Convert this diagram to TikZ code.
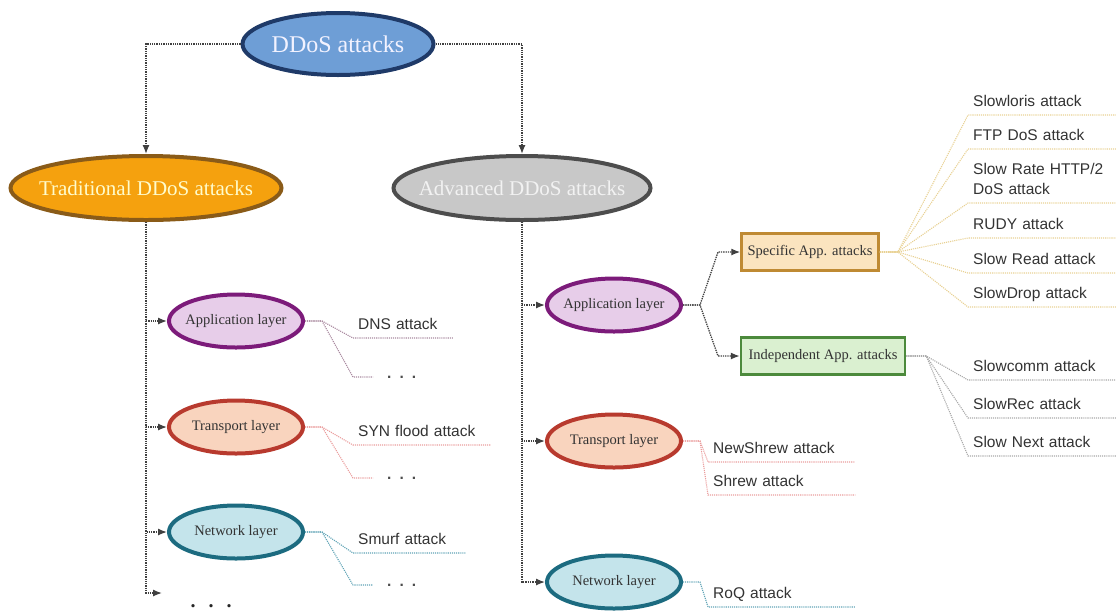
\documentclass[tikz,border=0pt]{standalone}
\usepackage{xcolor}
\usepackage{fontspec}
\usepackage{tikz}
\usetikzlibrary{shapes.geometric,arrows.meta}

\setmainfont{Liberation Serif}
\newfontfamily\leaffont{Liberation Sans}
\newcommand{\nowd}[1]{\makebox[0pt]{#1}}

\definecolor{rootfill}{HTML}{6E9ED6}
\definecolor{rootdraw}{HTML}{1F3A68}
\definecolor{tradfill}{HTML}{F5A10E}
\definecolor{traddraw}{HTML}{8A5B18}
\definecolor{advfill}{HTML}{C8C8C8}
\definecolor{advdraw}{HTML}{4D4D4D}
\definecolor{appfill}{HTML}{E7CDE9}
\definecolor{appdraw}{HTML}{7C1B7A}
\definecolor{trafill}{HTML}{F9D4BE}
\definecolor{tradraw}{HTML}{B83A2E}
\definecolor{netfill}{HTML}{C4E4EB}
\definecolor{netdraw}{HTML}{1C6B80}
\definecolor{specfill}{HTML}{FBE4BF}
\definecolor{specdraw}{HTML}{BF8A33}
\definecolor{indfill}{HTML}{DAF0D0}
\definecolor{inddraw}{HTML}{4C8A3C}
\definecolor{appline}{HTML}{A8889E}
\definecolor{traline}{HTML}{EA9C9C}
\definecolor{netline}{HTML}{5FA3B5}
\definecolor{specline}{HTML}{E8D193}
\definecolor{indline}{HTML}{A8A8A8}

\tikzset{
  trunk/.style={densely dotted, line width=1.3pt, black!75},
  tip/.style={-{Latex[length=9pt,width=7pt]}},
  oval/.style={ellipse, line width=4pt, inner sep=0pt},
  big/.style={oval, minimum height=64pt, font=\fontsize{21}{25}\selectfont},
  layer/.style={oval, minimum width=134pt, minimum height=53pt, font=\fontsize{14.5}{17}\selectfont, text=black!80},
  app/.style={layer, draw=appdraw, fill=appfill},
  tra/.style={layer, draw=tradraw, fill=trafill},
  net/.style={layer, draw=netdraw, fill=netfill},
  kind/.style={rectangle, line width=2.5pt, minimum height=37pt, inner sep=0pt, font=\fontsize{14.5}{17}\selectfont, text=black!80},
  leaf/.style={anchor=south west, align=left, inner xsep=5pt, inner ysep=4pt, text depth=4pt, font=\leaffont\fontsize{15.5}{20}\selectfont, text=black!80},
  twig/.style={densely dotted, line width=1.1pt},
  dots/.style={anchor=west, inner xsep=14pt, inner ysep=0pt, text height=2pt, text depth=0pt, font=\leaffont\bfseries\fontsize{15.5}{18}\selectfont, text=black!70},
  more/.style={inner sep=0pt, text height=3pt, text depth=0pt, font=\bfseries\fontsize{20}{22}\selectfont, text=black!85},
}

\begin{document}
\begin{tikzpicture}[x=1pt,y=-1pt]
    \useasboundingbox (0,0) rectangle (1116,614);

    % top of the tree
    \node[oval, draw=rootdraw, fill=rootfill, text=blue!5, minimum width=191pt, minimum height=62pt, font=\fontsize{24}{28}\selectfont] (root) at (338,44) {\nowd{DDoS attacks}};
    \node[big, draw=traddraw, fill=tradfill, text=yellow!20, minimum width=271pt] (trad) at (146,188) {\nowd{Traditional DDoS attacks}};
    \node[big, draw=advdraw, fill=advfill, text=white!95!black, minimum width=257pt] (adv) at (522,188) {\nowd{Advanced DDoS attacks}};
    \draw[trunk,tip] (root.west) -| (trad.north);
    \draw[trunk,tip] (root.east) -| (adv.north);

    % traditional side
    \node[app] (la) at (236,321) {\nowd{Application layer}};
    \node[tra] (lt) at (236,427) {\nowd{Transport layer}};
    \node[net] (ln) at (236,532) {\nowd{Network layer}};
    \coordinate (lend) at (162,593);
    \node[more] (lmore) at (211,606) {.\hspace{13pt}.\hspace{13pt}.};
    \foreach \i in {la,lt,ln,lend}{
        \draw[trunk,tip] (trad.south) |- (\i);
    }
    \foreach \i/\j/\k/\w/\y/\d in {la/appline/DNS attack/90/338/377, lt/traline/SYN flood attack/127/445/478, ln/netline/Smurf attack/102/553/585}{
        \node[leaf, text width=\w pt] (\i1) at (353,\y) {\k};
        \node[dots] (\i2) at (373,\d) {.\hspace{8pt}.\hspace{8pt}.};
        \draw[twig,\j] (\i.east) -- ++(17,0) -- (\i1.south west) -- (\i1.south east);
        \draw[twig,\j] (\i.east) -- ++(17,0) -- (353,\d) -- (\i2.west);
    }

    % advanced side
    \node[app] (ra) at (614,305) {\nowd{Application layer}};
    \node[tra] (rt) at (614,441) {\nowd{Transport layer}};
    \node[net] (rn) at (614,582) {\nowd{Network layer}};
    \foreach \i in {ra,rt,rn}{
        \draw[trunk,tip] (adv.south) |- (\i.west);
    }
    \node[kind, draw=specdraw, fill=specfill, minimum width=137pt] (spec) at (810,252) {Specific App. attacks};
    \node[kind, draw=inddraw, fill=indfill, minimum width=164pt] (ind) at (823,356) {Independent App. attacks};
    \draw[trunk,tip] (ra.east) -- ++(17,0) -- (718,252) -- (spec.west);
    \draw[trunk,tip] (ra.east) -- ++(17,0) -- (718,356) -- (ind.west);

    \foreach \i/\j/\k/\y in {rt/traline/NewShrew attack/462, rt/traline/Shrew attack/495, rn/netline/RoQ attack/607}{
        \node[leaf, text width=137pt] (\i\y) at (708,\y) {\k};
        \draw[twig,\j] (\i.east) -- ++(17,0) -- (\i\y.south west) -- (\i\y.south east);
    }

    \foreach \i/\k/\y/\d in {1/Slowloris attack/115/4, 2/FTP DoS attack/149/4, 3/{Slow Rate HTTP/2\\DoS attack}/203/24, 4/RUDY attack/238/4, 5/Slow Read attack/273/4, 6/SlowDrop attack/307/4}{
        \node[leaf, text width=138pt, text depth=\d pt] (s\i) at (968,\y) {\k};
        \draw[twig,specline] (spec.east) -- ++(18,0) -- (s\i.south west) -- (s\i.south east);
    }
    \foreach \i/\k/\y in {1/Slowcomm attack/380, 2/SlowRec attack/418, 3/Slow Next attack/456}{
        \node[leaf, text width=138pt] (c\i) at (968,\y) {\k};
        \draw[twig,indline] (ind.east) -- ++(20,0) -- (c\i.south west) -- (c\i.south east);
    }
\end{tikzpicture}
\end{document}
